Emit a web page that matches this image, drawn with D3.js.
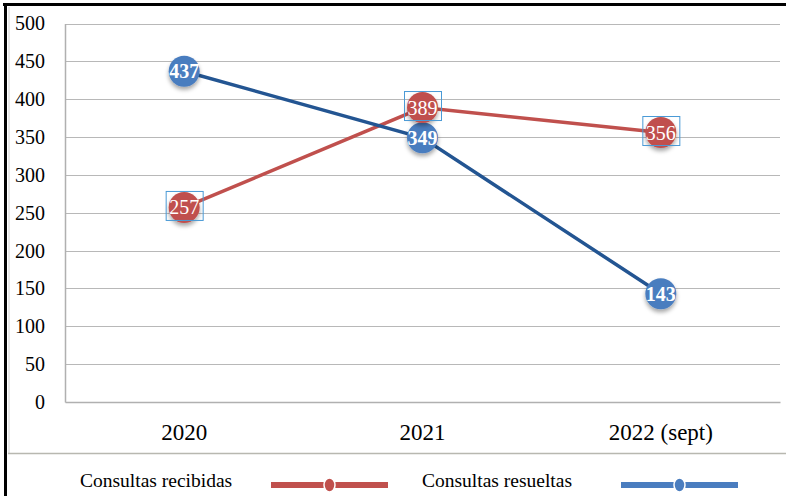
<!DOCTYPE html>
<html><head><meta charset="utf-8">
<script src="https://cdn.jsdelivr.net/npm/d3@7"></script>
<style>
html,body{margin:0;padding:0;background:#fff;}
svg{display:block;}
</style></head>
<body>
<script>
const categories = ["2020", "2021", "2022 (sept)"];
const recibidas = [257, 389, 356];
const resueltas = [437, 349, 143];
const yTicks = [0, 50, 100, 150, 200, 250, 300, 350, 400, 450, 500];
const seriesNames = ["Consultas recibidas", "Consultas resueltas"];

const W = 786, H = 496;
const FONT = "'Liberation Serif', 'Times New Roman', serif";
const svg = d3.select("body").append("svg").attr("width", W).attr("height", H);

const defs = svg.append("defs");
const f = defs.append("filter").attr("id", "sh").attr("x", "-50%").attr("y", "-50%").attr("width", "200%").attr("height", "200%");
f.append("feDropShadow").attr("dx", 0).attr("dy", 3).attr("stdDeviation", 2).attr("flood-color", "#000").attr("flood-opacity", 0.35);

// frame
svg.append("line").attr("x1", 9).attr("x2", 9).attr("y1", 7).attr("y2", 453).attr("stroke", "#d0d0d0").attr("stroke-width", 1);
svg.append("line").attr("x1", 8).attr("x2", W).attr("y1", 453.5).attr("y2", 453.5).attr("stroke", "#b8b8b0").attr("stroke-width", 1.5);
svg.append("line").attr("x1", 3).attr("x2", W).attr("y1", 4.5).attr("y2", 4.5).attr("stroke", "#000").attr("stroke-width", 3);
svg.append("line").attr("x1", 5.5).attr("x2", 5.5).attr("y1", 3).attr("y2", H).attr("stroke", "#000").attr("stroke-width", 3);

const x = d3.scaleBand().domain(categories).range([65, 780]);
const y = d3.scaleLinear().domain([0, 500]).range([402, 23.5]);

// gridlines
svg.append("g").selectAll("line").data(yTicks.filter(t => t > 0)).join("line")
  .attr("x1", 65).attr("x2", 780)
  .attr("y1", d => Math.round(y(d)) + 0.5).attr("y2", d => Math.round(y(d)) + 0.5)
  .attr("stroke", "#b8b8b8").attr("stroke-width", 1.2);

// axes
const yAxis = svg.append("g").attr("transform", "translate(65,0)")
  .call(d3.axisLeft(y).tickValues(yTicks).tickSize(0).tickPadding(20));
yAxis.select(".domain").attr("stroke", "#b0b0b0").attr("stroke-width", 1.5);
yAxis.selectAll("text").style("font-family", FONT).attr("font-size", 20).attr("fill", "#000");

const xAxis = svg.append("g").attr("transform", "translate(0,402)")
  .call(d3.axisBottom(x).tickSize(0).tickPadding(22));
xAxis.select(".domain").attr("stroke", "#b0b0b0").attr("stroke-width", 1.5);
xAxis.selectAll("text").style("font-family", FONT).attr("font-size", 23).attr("fill", "#000");

const cx = c => x(c) + x.bandwidth() / 2;
const line = d3.line().x(d => cx(d.c)).y(d => y(d.v));

const redLine = "#c0504d", redFill = "#c0504d";
const blueLine = "#235592", blueFill = "#4a7dbf";

const rec = categories.map((c, i) => ({c, v: recibidas[i]}));
const res = categories.map((c, i) => ({c, v: resueltas[i]}));

svg.append("path").datum(rec).attr("d", line).attr("fill", "none").attr("stroke", redLine).attr("stroke-width", 3.5);
svg.append("path").datum(res).attr("d", line).attr("fill", "none").attr("stroke", blueLine).attr("stroke-width", 3.5);

function markers(data, fill, boxed, bold) {
  const g = svg.append("g");
  const m = g.selectAll("g").data(data).join("g").attr("transform", d => `translate(${cx(d.c)},${y(d.v)})`);
  m.append("circle").attr("r", 15.5).attr("fill", fill).attr("filter", "url(#sh)");
  m.append("text").text(d => d.v).attr("text-anchor", "middle").attr("dy", "0.35em")
    .style("font-family", FONT).attr("font-size", 20).attr("font-weight", bold ? "bold" : "normal").attr("fill", "#fff");
  if (boxed) {
    m.append("rect").attr("x", -18).attr("y", -16).attr("width", 37).attr("height", 29)
      .attr("fill", "none").attr("stroke", "#4a9ad6").attr("stroke-width", 1);
  }
}
markers(res, blueFill, false, true);
markers(rec, redFill, true, false);

// legend
const legend = [
  {name: seriesNames[0], tx: 80, x1: 271, x2: 388, line: redFill},
  {name: seriesNames[1], tx: 422, x1: 621, x2: 738, line: blueFill}
];
const lg = svg.append("g").selectAll("g").data(legend).join("g");
lg.append("text").text(d => d.name).attr("x", d => d.tx).attr("y", 487)
  .style("font-family", FONT).attr("font-size", 19.5).attr("fill", "#000");
lg.append("line").attr("x1", d => d.x1).attr("x2", d => d.x2).attr("y1", 485).attr("y2", 485)
  .attr("stroke", d => d.line).attr("stroke-width", 6);
lg.append("ellipse").attr("cx", d => (d.x1 + d.x2) / 2).attr("cy", 485).attr("rx", 5.5).attr("ry", 7)
  .attr("fill", d => d.line).attr("stroke", "#fff").attr("stroke-width", 1.5);
</script>
</body></html>
